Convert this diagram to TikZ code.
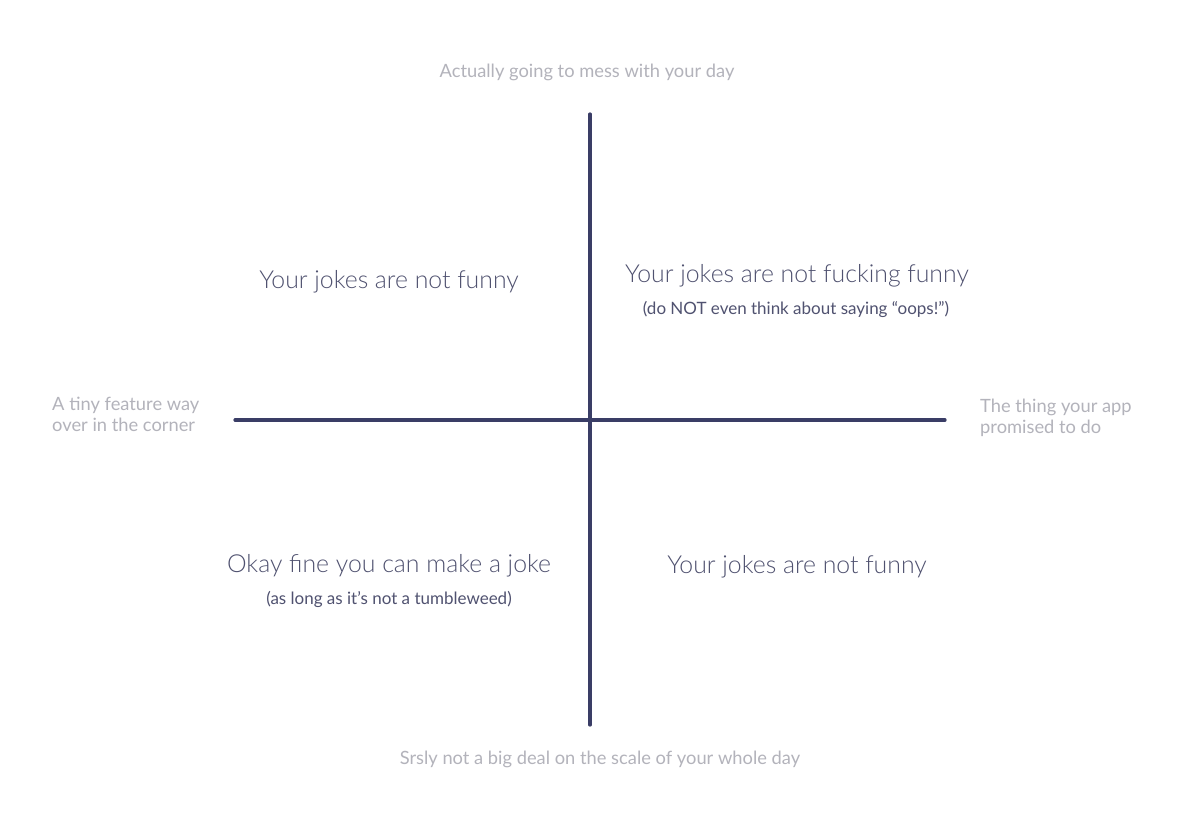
\documentclass[tikz,border=0pt]{standalone}
\usepackage{fontspec}
\setmainfont{Lato}
\newfontfamily\lightfont{Lato Light}
\definecolor{axis}{HTML}{3A3D66}
\definecolor{lbl}{HTML}{B3B3BB}
\definecolor{quad}{HTML}{505270}
\begin{document}
\begin{tikzpicture}[x=1pt,y=-1pt,
  axisline/.style={draw=axis,line width=3.2pt,line cap=round},
  axislbl/.style={text=lbl,font=\fontsize{18.3}{21}\selectfont,inner sep=0pt},
  quadtitle/.style={text=quad,font=\lightfont\fontsize{24.8}{28}\selectfont,inner sep=0pt},
  quadsub/.style={text=quad,font=\fontsize{17}{20}\selectfont,inner sep=0pt}]
\useasboundingbox[fill=white] (0,0) rectangle (1200,836);
\coordinate (vtop) at (590,114);
\coordinate (vbot) at (590,725);
\coordinate (hl) at (235,420);
\coordinate (hr) at (945,420);
\draw[axisline] (vtop) -- (vbot);
\draw[axisline] (hl) -- (hr);
\node[axislbl] (top) at (587,72) {Actually going to mess with your day};
\node[axislbl] (bottom) at (600,759) {Srsly not a big deal on the scale of your whole day};
\node[axislbl,anchor=west,align=left] (left) at (52,414) {A tiny feature way\\over in the corner};
\node[axislbl,anchor=west,align=left] (right) at (980,418) {The thing your app\\promised to do};
\node[quadtitle] (q1) at (389,282) {Your jokes are not funny};
\node[quadtitle] (q2) at (797,276) {Your jokes are not fucking funny};
\node[quadsub] (q2s) at (796,309) {(do NOT even think about saying “oops!”)};
\node[quadtitle] (q3) at (389,566) {Okay fine you can make a joke};
\node[quadsub] (q3s) at (389,599) {(as long as it’s not a tumbleweed)};
\node[quadtitle] (q4) at (797,567) {Your jokes are not funny};
\end{tikzpicture}
\end{document}
